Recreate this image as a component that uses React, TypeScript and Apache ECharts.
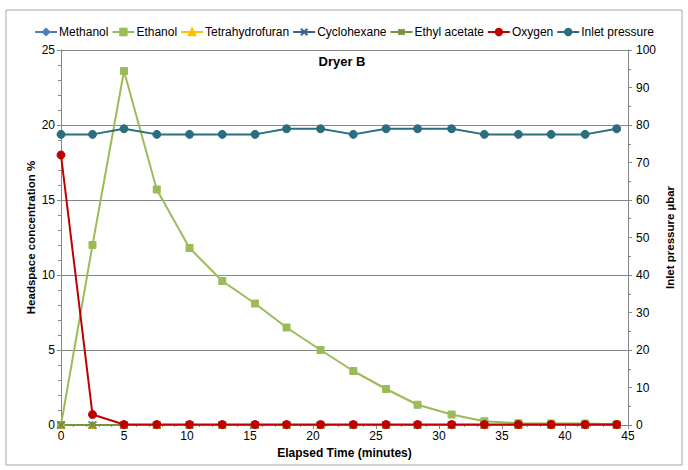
import React, { useEffect, useRef } from "react";
import * as echarts from "echarts";

// Elapsed time of each sample (minutes)
const elapsedMinutes = [0, 2.5, 5, 7.6, 10.2, 12.8, 15.4, 17.9, 20.6, 23.2, 25.8, 28.3, 31.0, 33.6, 36.3, 38.9, 41.6, 44.1];

// Headspace concentrations (%)
const methanol = [0, 0, 0, 0, 0, 0, 0, 0, 0, 0, 0, 0, 0, 0, 0, 0, 0, 0];
const ethanol = [0, 12.0, 23.6, 15.7, 11.8, 9.6, 8.1, 6.5, 5.0, 3.6, 2.4, 1.35, 0.7, 0.25, 0.12, 0.1, 0.1, 0.05];
const tetrahydrofuran = [0, 0, 0, 0, 0, 0, 0, 0, 0, 0, 0, 0, 0, 0, 0, 0, 0, 0];
const cyclohexane = [0, 0, 0, 0, 0, 0, 0, 0, 0, 0, 0, 0, 0, 0, 0, 0, 0, 0];
const ethylAcetate = [0, 0, 0, 0, 0, 0, 0, 0, 0, 0, 0, 0, 0, 0, 0, 0, 0, 0];
const oxygen = [18.0, 0.7, 0.03, 0.03, 0.03, 0.03, 0.03, 0.03, 0.03, 0.03, 0.03, 0.03, 0.03, 0.03, 0.03, 0.03, 0.03, 0.03];

// Inlet pressure (µbar)
const inletPressure = [77.5, 77.5, 79, 77.5, 77.5, 77.5, 77.5, 79, 79, 77.5, 79, 79, 79, 77.5, 77.5, 77.5, 77.5, 79];

const FONT = "Liberation Sans, Arial, sans-serif";
const AXIS_GREY = "#868686";

const pairs = (ys: number[]) => elapsedMinutes.map((x, i) => [x, ys[i]]);

const crossPath = "path://M0,0L10,10M10,0L0,10";
const asteriskPath = "path://M0,0L10,10M10,0L0,10M5,-1L5,11";

export default function App() {
  const ref = useRef<HTMLDivElement>(null);

  useEffect(() => {
    if (!ref.current) return;
    const chart = echarts.init(ref.current, undefined, { renderer: "svg" });

    const line = (
      name: string,
      data: number[],
      color: string,
      symbol: string,
      symbolSize: number,
      extra: any = {}
    ) => ({
      name,
      type: "line",
      data: pairs(data),
      symbol,
      symbolSize,
      lineStyle: { color, width: 2 },
      itemStyle: { color, borderColor: color, borderWidth: 1 },
      ...extra,
    });

    chart.setOption({
      animation: false,
      textStyle: { fontFamily: FONT },
      title: {
        text: "Dryer B",
        left: 337,
        top: 50,
        textAlign: "center",
        textStyle: { fontFamily: FONT, fontSize: 13, fontWeight: "bold", color: "#000" },
      },
      legend: {
        top: 21,
        left: "center",
        itemWidth: 22,
        itemHeight: 8,
        itemGap: 3,
        textStyle: { fontFamily: FONT, fontSize: 12, color: "#000", padding: [0, 0, 0, -3] },
        data: ["Methanol", "Ethanol", "Tetrahydrofuran", "Cyclohexane", "Ethyl acetate", "Oxygen", "Inlet pressure"],
      },
      graphic: [
        {
          type: "rect",
          shape: { x: 6, y: 10, width: 676, height: 455 },
          style: { fill: "none", stroke: "#A6A6A6", lineWidth: 1 },
          silent: true,
        },
      ],
      grid: { left: 61, right: 60, top: 50, bottom: 45 },
      xAxis: {
        type: "value",
        min: 0,
        max: 45,
        interval: 5,
        name: "Elapsed Time (minutes)",
        nameLocation: "middle",
        nameGap: 22,
        nameTextStyle: { fontFamily: FONT, fontSize: 12, fontWeight: "bold", color: "#000" },
        axisLine: { show: true, lineStyle: { color: AXIS_GREY } },
        axisTick: { show: true, length: 4, lineStyle: { color: AXIS_GREY } },
        minorTick: { show: true, splitNumber: 5, length: 2, lineStyle: { color: AXIS_GREY } },
        axisLabel: { fontFamily: FONT, fontSize: 12, color: "#000", margin: 5 },
        splitLine: { show: false },
      },
      yAxis: [
        {
          type: "value",
          min: 0,
          max: 25,
          interval: 5,
          name: "Headspace concentration %",
          nameLocation: "middle",
          nameGap: 24,
          nameMoveOverlap: false,
          nameTextStyle: { fontFamily: FONT, fontSize: 11.5, fontWeight: "bold", color: "#000" },
          axisLine: { show: true, lineStyle: { color: AXIS_GREY } },
          axisTick: { show: true, length: 4, lineStyle: { color: AXIS_GREY } },
          minorTick: { show: true, splitNumber: 5, length: 3, lineStyle: { color: AXIS_GREY } },
          axisLabel: { fontFamily: FONT, fontSize: 12, color: "#000", margin: 6 },
          splitLine: { show: true, lineStyle: { color: AXIS_GREY, width: 1 } },
        },
        {
          type: "value",
          min: 0,
          max: 100,
          interval: 10,
          name: "Inlet pressure µbar",
          nameLocation: "middle",
          nameGap: 36,
          nameMoveOverlap: false,
          nameTextStyle: { fontFamily: FONT, fontSize: 11.5, fontWeight: "bold", color: "#000" },
          axisLine: { show: true, lineStyle: { color: AXIS_GREY } },
          axisTick: { show: true, length: 4, lineStyle: { color: AXIS_GREY } },
          minorTick: { show: true, splitNumber: 2, length: 3, lineStyle: { color: AXIS_GREY } },
          axisLabel: { fontFamily: FONT, fontSize: 12, color: "#000", margin: 8 },
          splitLine: { show: false },
        },
      ],
      series: [
        line("Methanol", methanol, "#4A7EBB", "diamond", 7),
        line("Ethanol", ethanol, "#9BBB59", "rect", 7),
        line("Tetrahydrofuran", tetrahydrofuran, "#FFC000", "triangle", 7),
        line("Cyclohexane", cyclohexane, "#3E5F8F", crossPath, 7, {
          itemStyle: { color: "#3E5F8F", borderColor: "#3E5F8F", borderWidth: 1.5 },
        }),
        line("Ethyl acetate", ethylAcetate, "#77933C", asteriskPath, 8, {
          itemStyle: { color: "#77933C", borderColor: "#77933C", borderWidth: 1.5 },
        }),
        line("Oxygen", oxygen, "#C00000", "circle", 8),
        line("Inlet pressure", inletPressure, "#2A6D80", "circle", 8, { yAxisIndex: 1 }),
      ],
    });

    return () => chart.dispose();
  }, []);

  return (
    <div
      ref={ref}
      style={{ position: "fixed", left: 0, top: 0, width: 688, height: 470, background: "#fff" }}
    />
  );
}
